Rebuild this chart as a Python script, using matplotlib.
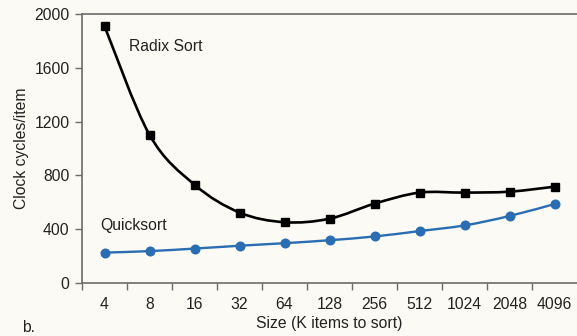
import numpy as np
import matplotlib
matplotlib.use("Agg")
import matplotlib.pyplot as plt
from matplotlib.path import Path
from matplotlib.patches import PathPatch

plt.rcParams['font.family'] = ['Liberation Sans', 'DejaVu Sans']

sizes = ["4", "8", "16", "32", "64", "128", "256", "512", "1024", "2048", "4096"]
radix_sort = [1910, 1102, 731, 524, 452, 478, 590, 672, 672, 679, 716]
quicksort = [226, 237, 256, 277, 296, 318, 346, 386, 428, 498, 587]
y_ticks = [0, 400, 800, 1200, 1600, 2000]

bg = "#fbfaf4"
spine_col = "#6b6b6b"
text_col = "#222222"
blue = "#2a6db3"
fs = 11.3


def smooth_path(xs, ys, tension=0.5):
    """Catmull-Rom curve through the points, expressed as cubic Bezier segments."""
    pts = np.column_stack([np.asarray(xs, float), np.asarray(ys, float)])
    n = len(pts)
    verts = [pts[0]]
    codes = [Path.MOVETO]
    for i in range(n - 1):
        p0 = pts[i - 1] if i > 0 else pts[i]
        p1 = pts[i]
        p2 = pts[i + 1]
        p3 = pts[i + 2] if i + 2 < n else pts[i + 1]
        c1 = p1 + (p2 - p0) * tension / 3.0
        c2 = p2 - (p3 - p1) * tension / 3.0
        verts += [c1, c2, p2]
        codes += [Path.CURVE4] * 3
    return Path(verts, codes)


fig = plt.figure(figsize=(5.77, 3.36), dpi=100, facecolor=bg)
ax = fig.add_axes([82 / 577, 1 - 283 / 336, 1 - 82 / 577, (283 - 14) / 336])
ax.set_facecolor(bg)

x = np.arange(len(sizes))

ax.add_patch(PathPatch(smooth_path(x, radix_sort), fill=False, ec="black", lw=1.9))
ax.plot(x, radix_sort, ls="none", marker="s", ms=5.5, color="black")

ax.add_patch(PathPatch(smooth_path(x, quicksort), fill=False, ec=blue, lw=1.7))
ax.plot(x, quicksort, ls="none", marker="o", ms=6.2, color=blue)

ax.set_xlim(-0.5, len(sizes) - 0.5)
ax.set_ylim(0, 2000)

ax.set_xticks(x)
ax.set_xticklabels(sizes)
ax.set_xticks(np.arange(-0.5, len(sizes) - 0.5, 1.0), minor=True)
ax.tick_params(axis="x", which="major", length=0, pad=10, labelsize=fs, colors=text_col)
ax.tick_params(axis="x", which="minor", length=5, width=1, color=spine_col, direction="out")
ax.set_yticks(y_ticks)
ax.tick_params(axis="y", length=5, width=1, color=spine_col, labelsize=fs, labelcolor=text_col, pad=4)

for side in ("left", "bottom", "top"):
    ax.spines[side].set_color(spine_col)
    ax.spines[side].set_linewidth(1.2)
ax.spines["right"].set_visible(False)

ax.set_xlabel("Size (K items to sort)", fontsize=fs, color=text_col, labelpad=3)
ax.set_ylabel("Clock cycles/item", fontsize=fs, color=text_col, labelpad=4)

ax.text(0.55, 1760, "Radix Sort", fontsize=fs, color=text_col, va="center", ha="left")
ax.text(-0.1, 430, "Quicksort", fontsize=fs, color=text_col, va="center", ha="left")
fig.text(22 / 577, 1 - 327 / 336, "b.", fontsize=fs, color=text_col, va="center", ha="left")

fig.savefig("out.png", dpi=100, facecolor=bg)
